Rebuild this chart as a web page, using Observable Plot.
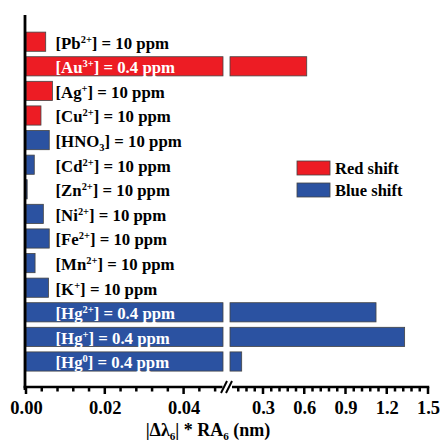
<!DOCTYPE html>
<html><head><meta charset="utf-8">
<script src="https://cdn.jsdelivr.net/npm/d3@7"></script>
<script src="https://cdn.jsdelivr.net/npm/@observablehq/plot@0.6"></script>
<style>body{margin:0;background:#fff} svg{display:block}</style>
</head><body><div id="chart"></div>
<script>
const labels = [
  "[Pb^{2+}] = 10 ppm", "[Au^{3+}] = 0.4 ppm", "[Ag^{+}] = 10 ppm", "[Cu^{2+}] = 10 ppm",
  "[HNO_{3}] = 10 ppm", "[Cd^{2+}] = 10 ppm", "[Zn^{2+}] = 10 ppm", "[Ni^{2+}] = 10 ppm",
  "[Fe^{2+}] = 10 ppm", "[Mn^{2+}] = 10 ppm", "[K^{+}] = 10 ppm",
  "[Hg^{2+}] = 0.4 ppm", "[Hg^{+}] = 0.4 ppm", "[Hg^{0}] = 0.4 ppm"
];
const values = [0.0050, 0.618, 0.0067, 0.0038, 0.0059, 0.0021, 0.0003, 0.0044, 0.0059, 0.0023, 0.0057, 1.122, 1.33, 0.145];
const shifts = ["Red shift","Red shift","Red shift","Red shift","Blue shift","Blue shift","Blue shift","Blue shift","Blue shift","Blue shift","Blue shift","Blue shift","Blue shift","Blue shift"];
const legendLabels = ["Red shift", "Blue shift"];
const colors = ["#ED1C24", "#2B52A1"];
const xBreak = [0.05, 0.06];
const xTicksMajor = [0, 0.02, 0.04, 0.3, 0.6, 0.9, 1.2, 1.5];
const xTitle = "|\u0394\u03bb_{6}| * RA_{6} (nm)";

const xTicksMinor = d3.range(0.004, 0.049, 0.004).concat(d3.range(0.12, 1.49, 0.06))
  .filter(t => !xTicksMajor.some(m => Math.abs(m - t) < 1e-6));

const rows = labels.map((label, i) => ({label, value: values[i], shift: shifts[i]}));
const segs = [];
rows.forEach(r => {
  segs.push({...r, x1: 0, x2: Math.min(r.value, xBreak[0])});
  if (r.value > xBreak[1]) segs.push({...r, x1: xBreak[1], x2: r.value});
});

const FONT = "'Liberation Serif', 'Times New Roman', serif";
const W = 442, H = 446, mB = 59;
const LFS = 16.8;
const chart = Plot.plot({
  width: W, height: H,
  marginLeft: 26, marginRight: 14, marginTop: 15, marginBottom: mB,
  x: {type: "linear", domain: [0, xBreak[0], xBreak[1], 1.5], range: [26, 223, 230, 428], label: null},
  y: {type: "band", domain: labels, range: [26.7, 376.5], paddingInner: 0.22, paddingOuter: 0.22, round: false, axis: null},
  color: {domain: legendLabels, range: colors},
  style: {fontFamily: FONT, fontWeight: "bold", background: "white", color: "black"},
  marks: [
    Plot.barX(segs, {x1: "x1", x2: "x2", y: "label", fill: "shift", stroke: "#444", strokeWidth: 0.8}),
    Plot.text(rows.filter(d => d.value <= xBreak[1]), {x: 0, y: "label", text: "label", textAnchor: "start", dx: 29, dy: 1, fontSize: LFS, fill: "black"}),
    Plot.text(rows.filter(d => d.value > xBreak[1]), {x: 0, y: "label", text: "label", textAnchor: "start", dx: 29, dy: 1, fontSize: LFS, fill: "white"}),
    Plot.axisX({ticks: xTicksMajor, tickSize: 0, tickPadding: 13.5, fontSize: 18.5, fill: "black",
      tickFormat: d => d < xBreak[0] ? d.toFixed(2) : d.toFixed(1), label: null})
  ]
});
document.getElementById("chart").appendChild(chart);

function rich(sel, str, fs) {
  sel.text(null);
  const re = /(\^|_)\{([^}]*)\}/g;
  let last = 0, m, shift = 0;
  const add = (txt, ds, size) => {
    const t = sel.append("tspan").text(txt);
    if (ds) t.attr("dy", ds);
    if (size) t.attr("font-size", size);
  };
  while ((m = re.exec(str))) {
    if (m.index > last) { add(str.slice(last, m.index), -shift || null); shift = 0; }
    const s = m[1] === "^" ? -0.36 * fs : 0.22 * fs;
    add(m[2], s - shift, 0.62 * fs);
    shift = s;
    last = re.lastIndex;
  }
  if (last < str.length) add(str.slice(last), -shift || null);
}

const svg = d3.select(chart);
svg.selectAll("text").each(function() {
  const t = this.textContent;
  if (t.includes("^{") || t.includes("_{")) rich(d3.select(this), t, LFS);
});

const xs = chart.scale("x");
const X = v => xs.apply(v);
const yb = H - mB;
const g = svg.append("g").attr("fill", "none").attr("stroke-linecap", "butt");
// ticks
xTicksMinor.forEach(t => g.append("rect").attr("x", X(t) - 1.25).attr("y", yb).attr("width", 2.5).attr("height", 4.5).attr("fill", "black"));
xTicksMajor.forEach(t => g.append("rect").attr("x", X(t) - 1.25).attr("y", yb).attr("width", 2.5).attr("height", 7).attr("fill", "black"));
// axis lines
g.append("line").attr("stroke", "black").attr("x1", X(0) - 1).attr("x2", X(0) - 1).attr("y1", 15).attr("y2", yb + 3).attr("stroke-width", 2.8);
g.append("line").attr("stroke", "black").attr("x1", X(0) - 2.4).attr("x2", X(xBreak[0]) - 0.5).attr("y1", yb).attr("y2", yb).attr("stroke-width", 2.5);
g.append("line").attr("stroke", "black").attr("x1", X(xBreak[1]) + 2).attr("x2", X(1.5) + 1.25).attr("y1", yb).attr("y2", yb).attr("stroke-width", 2.5);
[X(xBreak[0]) - 2, X(xBreak[0]) + 3].forEach(x0 => {
  g.append("line").attr("stroke", "black").attr("x1", x0).attr("y1", yb + 6).attr("x2", x0 + 6).attr("y2", yb - 6).attr("stroke-width", 2);
});

// x title
const title = svg.append("text").attr("x", 208).attr("y", 436).attr("text-anchor", "middle")
  .attr("font-size", 18).attr("font-weight", "bold").attr("fill", "black").attr("font-family", FONT);
rich(title, xTitle, 18);

// legend
const lg = svg.append("g").attr("font-size", 16.5).attr("font-weight", "bold").attr("font-family", FONT).attr("text-anchor", "start");
legendLabels.forEach((lab, i) => {
  const y0 = 161 + i * 22;
  lg.append("rect").attr("x", 297).attr("y", y0).attr("width", 33).attr("height", 14)
    .attr("fill", colors[i]).attr("stroke", "#444").attr("stroke-width", 0.8);
  lg.append("text").attr("x", 335).attr("y", y0 + 13).attr("fill", "black").text(lab);
});
</script></body></html>
